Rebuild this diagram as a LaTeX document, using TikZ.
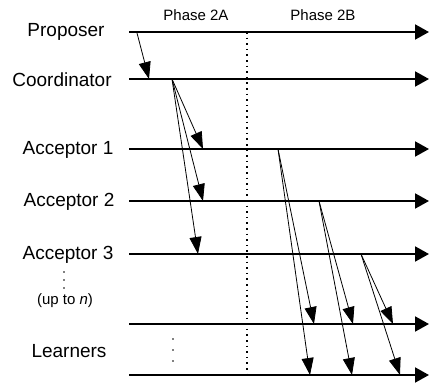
\documentclass[tikz,border=0pt]{standalone}
\usepackage{fontspec}
\setmainfont{Liberation Sans}
\usetikzlibrary{arrows.meta}
\tikzset{
  timeline/.style={line width=2pt, -{Triangle[length=14pt,width=15pt]}},
  msg/.style={line width=0.8pt, -{Triangle[length=17pt,width=12pt]}},
  role/.style={font=\fontsize{19}{22}\selectfont},
  phase/.style={font=\fontsize{15}{18}\selectfont},
  dot/.style={circle, fill=black, inner sep=0pt, minimum size=1.6pt}
}
\begin{document}
\begin{tikzpicture}[x=1pt,y=-1pt]
\useasboundingbox (0,0) rectangle (429,383);
% role names
\node [role] (prop) at (66,32) {Proposer};
\node [role] (coord) at (62,80) {Coordinator};
\node [role] (acc1) at (68,150) {Acceptor 1};
\node [role] (acc2) at (69,202) {Acceptor 2};
\node [role] (acc3) at (68,255) {Acceptor 3};
\node [dot] (d1) at (64,272) {};
\node [dot] (d2) at (64,280) {};
\node [dot] (d3) at (64,288) {};
\node [phase] (upto) at (65,301) {(up to \textit{n})};
\node [role] (learn) at (69,351) {Learners};
\node [dot] (e1) at (173,339) {};
\node [dot] (e2) at (173,350) {};
\node [dot] (e3) at (173,361) {};
% phases
\node [phase] (ph2a) at (196,15) {Phase 2A};
\node [phase] (ph2b) at (323,15) {Phase 2B};
% time lines
\coordinate (p0) at (129,32);  \coordinate (p1) at (429,32);
\coordinate (c0) at (129,79);  \coordinate (c1) at (429,79);
\coordinate (a10) at (129,149); \coordinate (a11) at (429,149);
\coordinate (a20) at (129,201); \coordinate (a21) at (429,201);
\coordinate (a30) at (129,254); \coordinate (a31) at (429,254);
\coordinate (l10) at (129,324); \coordinate (l11) at (429,324);
\coordinate (l20) at (129,375); \coordinate (l21) at (429,375);
\draw [timeline] (p0) -- (p1);
\draw [timeline] (c0) -- (c1);
\draw [timeline] (a10) -- (a11);
\draw [timeline] (a20) -- (a21);
\draw [timeline] (a30) -- (a31);
\draw [timeline] (l10) -- (l11);
\draw [timeline] (l20) -- (l21);
% phase border
\coordinate (sep0) at (247,32);
\coordinate (sep1) at (247,375);
\draw [line width=1.6pt, dash pattern=on 1.6pt off 4pt] (sep0) -- (sep1);
% phase 2A messages
\coordinate (pm) at (137,33);
\coordinate (cm) at (149,79);
\draw [msg] (pm) -- (cm);
\coordinate (cs) at (172,79);
\coordinate (t1) at (203,149);
\coordinate (t2) at (203,201);
\coordinate (t3) at (198,254);
\draw [msg] (cs) -- (t1);
\draw [msg] (cs) -- (t2);
\draw [msg] (cs) -- (t3);
% phase 2B messages
\coordinate (s1) at (278,149);
\coordinate (s2) at (319,201);
\coordinate (s3) at (361,254);
\coordinate (u1) at (314,324); \coordinate (v1) at (310,375);
\coordinate (u2) at (353,324); \coordinate (v2) at (352,375);
\coordinate (u3) at (393,324); \coordinate (v3) at (400,375);
\draw [msg] (s1) -- (u1);
\draw [msg] (s1) -- (v1);
\draw [msg] (s2) -- (u2);
\draw [msg] (s2) -- (v2);
\draw [msg] (s3) -- (u3);
\draw [msg] (s3) -- (v3);
\end{tikzpicture}
\end{document}
